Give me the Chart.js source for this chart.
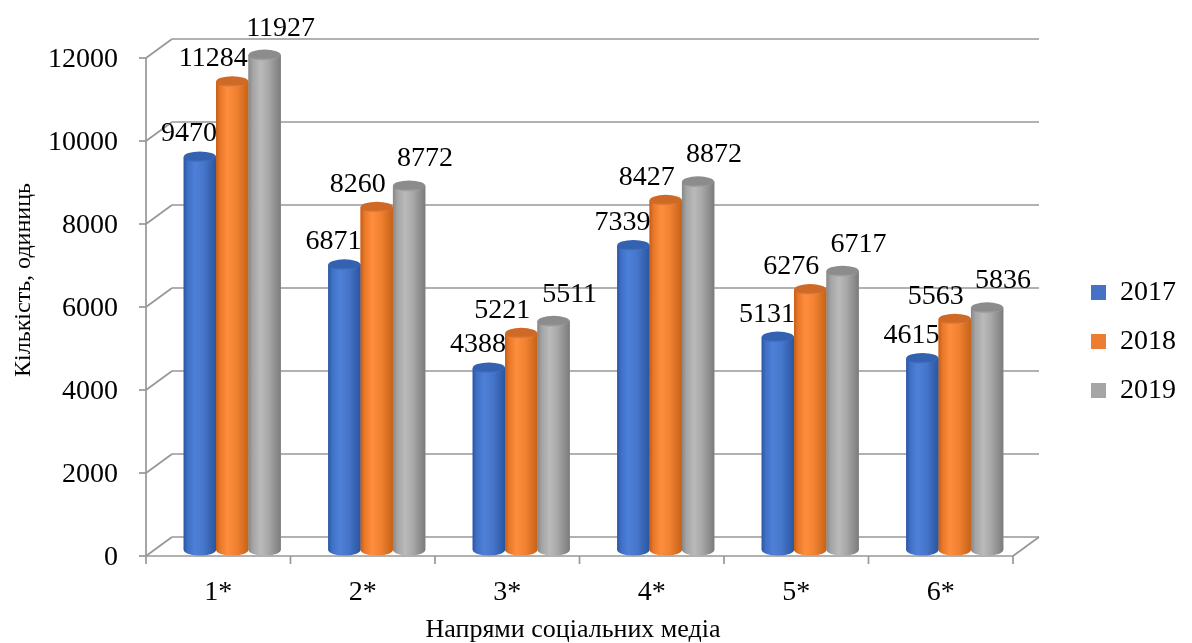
<!DOCTYPE html>
<html>
<head>
<meta charset="utf-8">
<script src="https://cdn.jsdelivr.net/npm/chart.js@4/dist/chart.umd.min.js"></script>
<style>
  html, body { margin: 0; padding: 0; background: #ffffff; }
  #wrap { width: 1192px; height: 643px; }
</style>
</head>
<body>
<div id="wrap"><canvas id="c" width="1192" height="643"></canvas></div>
<script>
// ---- data ----
const categories = ['1*', '2*', '3*', '4*', '5*', '6*'];
const years = ['2017', '2018', '2019'];
const values2017 = [9470, 6871, 4388, 7339, 5131, 4615];
const values2018 = [11284, 8260, 5221, 8427, 6276, 5563];
const values2019 = [11927, 8772, 5511, 8872, 6717, 5836];
const yTickValues = [0, 2000, 4000, 6000, 8000, 10000, 12000];
const yAxisTitle = 'Кількість, одиниць';
const xAxisTitle = 'Напрями соціальних медіа';

// ---- styling ----
const FONT = '"Liberation Serif", "Times New Roman", serif';
const BASE_COLORS = ['#4472C4', '#ED7D31', '#A5A5A5'];
const BODY_STOPS = [
  [[0, '#2b57a2'], [0.12, '#3f70c6'], [0.35, '#4e80d8'], [0.62, '#4676cb'], [1, '#2a559f']],
  [[0, '#c25d1a'], [0.12, '#e87827'], [0.35, '#fe8e3d'], [0.62, '#f18232'], [1, '#c66216']],
  [[0, '#878787'], [0.14, '#a5a5a5'], [0.38, '#bababa'], [0.62, '#a8a8a8'], [1, '#7b7b7b']]
];
const TOP_COLORS = [['#3461b0', '#4b7bd0'], ['#cf6a26', '#f08a44'], ['#8c8c8c', '#a9a9a9']];
const LABEL_DX = [-11, -19, 16];
const LABEL_GAP = [10, 10, 14];
const FRONT = { dx: -14, dy: 6 };   // front edge of the floor / side wall
const BACK = { dx: 12, dy: -13 };   // back wall
const LINE_COLOR = '#979797';
const CYL_RY = 5.5;

const seg = (ctx, x1, y1, x2, y2) => {
  ctx.beginPath(); ctx.moveTo(x1, y1); ctx.lineTo(x2, y2); ctx.stroke();
};

// 3D frame: back wall grid, side wall, floor, tick marks, titles
const frame3d = {
  id: 'frame3d',
  beforeDatasetsDraw(chart) {
    const { ctx, chartArea: { left, right }, scales: { x: xs, y: ys } } = chart;
    ctx.save();
    ctx.strokeStyle = LINE_COLOR;
    ctx.lineWidth = 1.7;
    ys.ticks.forEach(t => {
      const y = ys.getPixelForValue(t.value);
      seg(ctx, left + BACK.dx, y + BACK.dy, right + BACK.dx, y + BACK.dy);
      seg(ctx, left + FRONT.dx, y + FRONT.dy, left + BACK.dx, y + BACK.dy);
      seg(ctx, left + FRONT.dx - 7, y + FRONT.dy, left + FRONT.dx, y + FRONT.dy);
    });
    const y0 = ys.getPixelForValue(ys.min);
    const yTop = ys.getPixelForValue(ys.max);
    seg(ctx, left + FRONT.dx, y0 + FRONT.dy, left + FRONT.dx, yTop + FRONT.dy);
    seg(ctx, left + FRONT.dx, y0 + FRONT.dy, right + FRONT.dx, y0 + FRONT.dy);
    seg(ctx, right + FRONT.dx, y0 + FRONT.dy, right + BACK.dx, y0 + BACK.dy);
    const step = xs.getPixelForValue(1) - xs.getPixelForValue(0);
    for (let i = 0; i <= categories.length; i++) {
      const x = xs.getPixelForValue(0) - step / 2 + i * step + FRONT.dx;
      seg(ctx, x, y0 + FRONT.dy, x, y0 + FRONT.dy + 8);
    }
    ctx.restore();
  },
  afterDatasetsDraw(chart) {
    const { ctx } = chart;
    ctx.save();
    // cylinders, drawn cluster by cluster, left to right
    for (let i = 0; i < categories.length; i++) {
      chart.data.datasets.forEach((ds, d) => {
        const el = chart.getDatasetMeta(d).data[i];
        const { x, y, base, width } = el.getProps(['x', 'y', 'base', 'width'], true);
        const rx = width / 2, x0 = x - rx;
        const g = ctx.createLinearGradient(x0, 0, x0 + width, 0);
        BODY_STOPS[d].forEach(([o, c]) => g.addColorStop(o, c));
        ctx.beginPath();
        ctx.rect(x0, y, width, base - y);
        ctx.moveTo(x + rx, base);
        ctx.ellipse(x, base, rx, CYL_RY, 0, 0, Math.PI);
        ctx.fillStyle = g;
        ctx.fill();
        const tg = ctx.createLinearGradient(0, y - CYL_RY, 0, y + CYL_RY);
        tg.addColorStop(0, TOP_COLORS[d][0]);
        tg.addColorStop(0.75, TOP_COLORS[d][0]);
        tg.addColorStop(1, TOP_COLORS[d][1]);
        ctx.beginPath();
        ctx.ellipse(x, y, rx, CYL_RY, 0, 0, Math.PI * 2);
        ctx.fillStyle = tg;
        ctx.fill();
      });
    }
    // value labels
    ctx.fillStyle = '#000';
    ctx.font = '28px ' + FONT;
    ctx.textAlign = 'center';
    ctx.textBaseline = 'alphabetic';
    chart.data.datasets.forEach((ds, d) => {
      chart.getDatasetMeta(d).data.forEach((el, i) => {
        const { x, y } = el.getProps(['x', 'y'], true);
        ctx.fillText(String(ds.data[i]), x + LABEL_DX[d], y - CYL_RY - LABEL_GAP[d]);
      });
    });
    // axis titles
    ctx.font = '26px ' + FONT;
    ctx.textBaseline = 'alphabetic';
    ctx.fillText(xAxisTitle, 573, 637);
    ctx.font = '24px ' + FONT;
    ctx.translate(24, 280);
    ctx.rotate(-Math.PI / 2);
    ctx.textBaseline = 'middle';
    ctx.fillText(yAxisTitle, 0, 0);
    ctx.restore();
  }
};

const series = [values2017, values2018, values2019];

new Chart(document.getElementById('c'), {
  type: 'bar',
  data: {
    labels: categories,
    datasets: years.map((yr, d) => ({
      label: yr,
      data: series[d],
      backgroundColor: BASE_COLORS[d],
      borderWidth: 0,
      barPercentage: 1,
      categoryPercentage: 0.672
    }))
  },
  options: {
    responsive: false,
    animation: false,
    devicePixelRatio: 1,
    layout: { padding: { top: 52, bottom: 12, left: 0, right: 6 } },
    plugins: {
      legend: {
        position: 'right',
        labels: {
          boxWidth: 15,
          boxHeight: 15,
          padding: 21,
          color: '#000',
          font: { family: FONT, size: 28 }
        }
      },
      tooltip: { enabled: false }
    },
    scales: {
      x: {
        grid: { display: false, drawTicks: false },
        border: { display: false },
        ticks: {
          color: '#000',
          font: { family: FONT, size: 28 },
          labelOffset: FRONT.dx,
          padding: 26,
          maxRotation: 0
        },
        afterFit(s) { s.height = 81; s.paddingLeft = 0; s.paddingRight = 0; }
      },
      y: {
        min: 0,
        max: 12000,
        grid: { display: false, drawTicks: false },
        border: { display: false },
        afterBuildTicks(s) { s.ticks = yTickValues.map(v => ({ value: v })); },
        ticks: {
          color: '#000',
          font: { family: FONT, size: 28 },
          labelOffset: 8,
          padding: 42,
          callback: v => String(v)
        },
        afterFit(s) { s.width = 160; s.paddingTop = 0; s.paddingBottom = 0; }
      },
      gap: {
        type: 'linear',
        position: 'right',
        display: true,
        grid: { display: false, drawTicks: false },
        border: { display: false },
        ticks: { display: false },
        afterFit(s) { s.width = 43; s.paddingTop = 0; s.paddingBottom = 0; }
      }
    }
  },
  plugins: [frame3d]
});
</script>
</body>
</html>
